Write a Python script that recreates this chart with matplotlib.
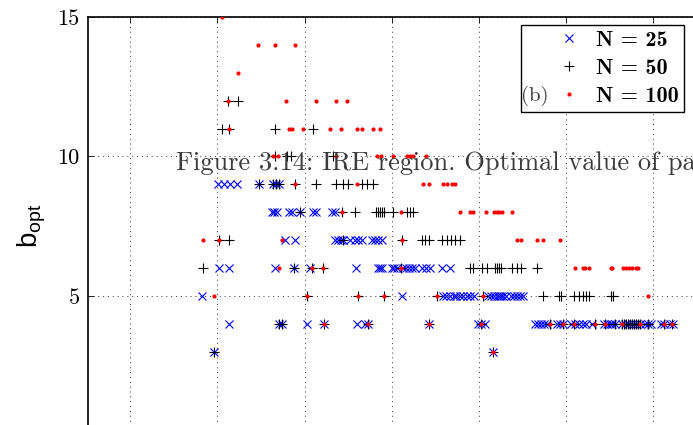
import matplotlib
matplotlib.use("Agg")

import matplotlib.pyplot as plt
from matplotlib.lines import Line2D

plt.rcParams["font.family"] = ["cmr10", "DejaVu Serif"]
plt.rcParams["axes.formatter.use_mathtext"] = True

# optimal b for each sample size, keyed by b value -> parameter values
N25_POINTS = {
    9: [2.01, 2.08, 2.14, 2.22, 2.48, 2.64, 2.67, 2.70],
    8: [2.63, 2.65, 2.68, 2.82, 2.85, 2.95, 3.10, 3.13, 3.31, 3.35],
    7: [2.77, 2.89, 3.35, 3.38, 3.42, 3.44, 3.52, 3.58, 3.61, 3.66, 3.77, 3.81, 3.84, 3.89],
    6: [2.02, 2.13, 2.66, 2.88, 3.06, 3.59, 3.84, 3.86, 3.89, 4.00, 4.02, 4.06, 4.13, 4.16,
        4.20, 4.23, 4.27, 4.35, 4.39, 4.44, 4.57, 4.67],
    5: [1.82, 4.12, 4.59, 4.62, 4.67, 4.71, 4.74, 4.78, 4.82, 4.86, 4.90, 4.94, 5.10, 5.14,
        5.17, 5.21, 5.23, 5.25, 5.27, 5.31, 5.37, 5.40, 5.43, 5.47, 5.50],
    4: [2.13, 2.71, 2.74, 3.03, 3.22, 3.60, 3.69, 3.73, 4.42, 4.99, 5.02, 5.07, 5.64, 5.68,
        5.71, 5.74, 5.78, 5.89, 5.93, 5.96, 6.05, 6.10, 6.15, 6.19, 6.23, 6.30, 6.43, 6.47,
        6.50, 6.53, 6.56, 6.64, 6.67, 6.71, 6.75, 6.80, 6.85, 6.90, 6.94, 6.97, 7.09, 7.12,
        7.19, 7.22],
    3: [1.96, 5.16],
}

N50_POINTS = {
    12: [2.12, 2.24],
    11: [2.05, 2.13, 2.66, 3.09],
    10: [2.66, 2.80, 2.84, 3.32],
    9: [2.48, 2.64, 2.67, 2.70, 2.89, 3.13, 3.36, 3.44, 3.50, 3.66, 3.71, 3.78],
    8: [2.95, 3.43, 3.58, 3.82, 3.84, 3.86, 3.89, 3.91, 4.01, 4.17, 4.21, 4.24],
    7: [2.02, 2.13, 3.44, 4.12, 4.35, 4.38, 4.42, 4.57, 4.63, 4.68, 4.72, 4.78],
    6: [1.83, 2.88, 3.08, 3.21, 4.10, 4.90, 4.93, 5.03, 5.09, 5.18, 5.21, 5.23, 5.25, 5.38,
        5.43, 5.48, 5.66],
    5: [3.03, 3.61, 3.91, 4.52, 5.04, 5.73, 5.92, 5.94, 6.09, 6.15, 6.19, 6.23, 6.26, 6.51, 6.54],
    4: [2.71, 2.74, 3.22, 3.73, 4.42, 5.02, 5.81, 5.96, 6.09, 6.33, 6.44, 6.56, 6.64, 6.66,
        6.69, 6.71, 6.73, 6.75, 6.78, 6.80, 6.82, 6.85, 6.94, 7.12, 7.21],
    3: [1.96, 5.16],
}

N100_POINTS = {
    15: [2.05],
    14: [2.47, 2.66, 2.89],
    13: [2.24],
    12: [2.12, 2.78, 3.13, 3.36, 3.49],
    11: [2.13, 2.82, 2.85, 2.98, 3.29, 3.42, 3.60, 3.66, 3.78, 3.86],
    10: [2.64, 2.69, 3.36, 3.83, 3.87, 4.01, 4.17, 4.21, 4.24, 4.39],
    9: [2.89, 3.60, 4.36, 4.42, 4.59, 4.63, 4.69, 4.72],
    8: [3.43, 4.10, 4.78, 4.90, 4.93, 5.08, 5.17, 5.21, 5.23, 5.26, 5.38],
    7: [1.83, 2.02, 2.74, 4.12, 5.43, 5.48, 5.66, 5.73, 5.93],
    6: [2.71, 3.08, 3.21, 4.10, 6.10, 6.19, 6.21, 6.26, 6.51, 6.53, 6.65, 6.68, 6.72, 6.75,
        6.80, 6.82],
    5: [1.96, 3.03, 3.61, 3.91, 4.52, 5.04, 6.94],
    4: [3.22, 3.73, 4.42, 5.02, 5.81, 5.96, 6.09, 6.33, 6.44, 6.64, 6.85, 7.12, 7.21],
    3: [5.16],
}

LABELS = ["N = 25", "N = 50", "N = 100"]
CAPTION = "Figure 3.14: IRE region. Optimal value of pa"


def flatten(points):
    xs, ys = [], []
    for b, vals in points.items():
        xs.extend(vals)
        ys.extend([b] * len(vals))
    return xs, ys


fig = plt.figure(figsize=(6.93, 4.25), dpi=100)
ax = fig.add_axes([88 / 693, -0.0247, 0.9418, 0.9847])

styles = [
    dict(marker="x", color="#0000ff", ms=5.5, mew=0.8),
    dict(marker="+", color="black", ms=7.5, mew=0.8),
    dict(marker="o", color="#ff0000", ms=3.0, mew=0),
]
for points, st in zip([N25_POINTS, N50_POINTS, N100_POINTS], styles):
    xs, ys = flatten(points)
    ax.plot(xs, ys, ls="none", zorder=3, **st)

ax.set_xlim(0.515, 8)
ax.set_ylim(0, 15)
ax.set_xticks(range(1, 8))
ax.set_yticks([5, 10, 15])
ax.set_yticklabels(["5", "10", "15"], fontsize=16)
ax.tick_params(direction="in", length=4, width=0.6, top=True, right=True,
               labelbottom=False, pad=6)
ax.grid(True, ls=(0, (1, 4)), lw=0.7, color="#333333")
for side in ["left", "top"]:
    ax.spines[side].set_linewidth(1.2)

ax.set_ylabel(r"b$_\mathregular{opt}$", family="Liberation Sans", fontsize=20, labelpad=7)

handles = [Line2D([], [], ls="none", **st) for st in styles]
leg = fig.legend(handles, LABELS, loc="upper right",
                 bbox_to_anchor=(684 / 693, 1 - 25 / 425),
                 prop=dict(family="cmb10", size=16),
                 frameon=True, fancybox=False, edgecolor="black", framealpha=1,
                 borderaxespad=0, borderpad=0.25, labelspacing=0.38,
                 handlelength=3.85, handletextpad=-0.73)
leg.get_frame().set_linewidth(1.0)
leg.set_zorder(5)

fig.text(176 / 693, 1 - 170 / 425, CAPTION, family="cmr10", fontsize=19,
         color="#3c3c3c", va="baseline", ha="left", zorder=2)
fig.text(521 / 693, 1 - 96 / 425, "(b)", family="cmr10", fontsize=15,
         color="#3c3c3c", va="center", ha="left", zorder=10)

fig.savefig("out.png", dpi=100)
